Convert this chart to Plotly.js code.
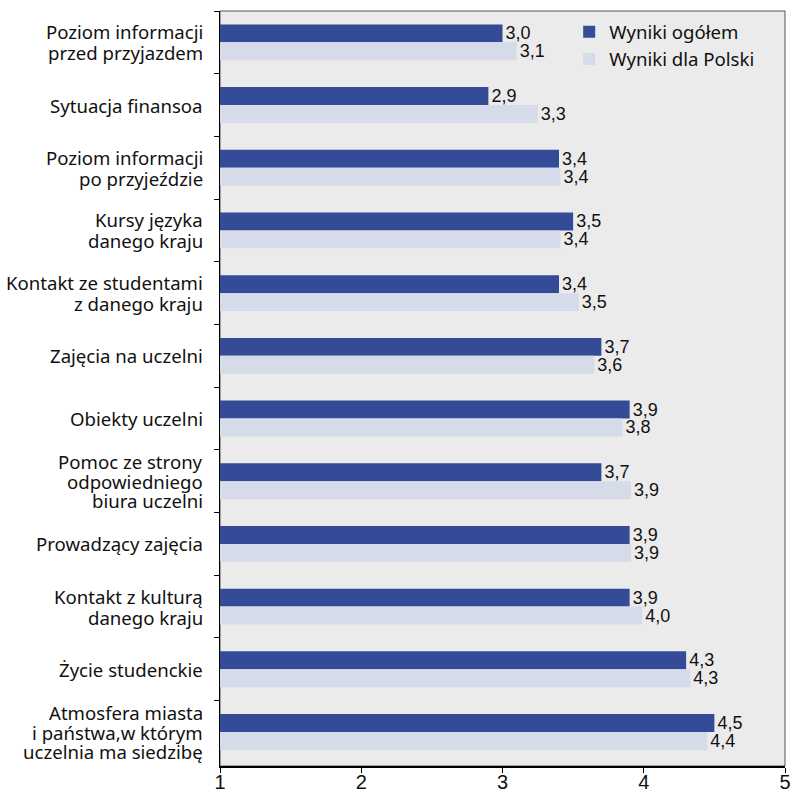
<!DOCTYPE html>
<html>
<head>
<meta charset="utf-8">
<script src="https://cdn.plot.ly/plotly-3.0.1.min.js"></script>
<style>html,body{margin:0;padding:0;background:#fff;}#chart{width:791px;height:789px;}</style>
</head>
<body>
<div id="chart"></div>
<script>
const categories = [
  "Poziom informacji<br>przed przyjazdem",
  "Sytuacja finansoa",
  "Poziom informacji<br>po przyjeździe",
  "Kursy języka<br>danego kraju",
  "Kontakt ze studentami<br>z danego kraju",
  "Zajęcia na uczelni",
  "Obiekty uczelni",
  "Pomoc ze strony<br>odpowiedniego<br>biura uczelni",
  "Prowadzący zajęcia",
  "Kontakt z kulturą<br>danego kraju",
  "Życie studenckie",
  "Atmosfera miasta<br>i państwa,w którym<br>uczelnia ma siedzibę"
];
const overall = [3.0, 2.9, 3.4, 3.5, 3.4, 3.7, 3.9, 3.7, 3.9, 3.9, 4.3, 4.5];
const poland  = [3.1, 3.25, 3.41, 3.41, 3.54, 3.65, 3.85, 3.91, 3.91, 3.99, 4.33, 4.45];
const overallLabels = ["3,0", "2,9", "3,4", "3,5", "3,4", "3,7", "3,9", "3,7", "3,9", "3,9", "4,3", "4,5"];
const polandLabels  = ["3,1", "3,3", "3,4", "3,4", "3,5", "3,6", "3,8", "3,9", "3,9", "4,0", "4,3", "4,4"];
const seriesNames = ["Wyniki ogółem", "Wyniki dla Polski"];
const xTicks = [1, 2, 3, 4, 5];

const labelFont = {family: "Noto Sans", size: 18.6, color: "#111"};
const numFont = {family: "Liberation Sans, Arial", size: 18, color: "#111"};

const traces = [
  {type: "bar", orientation: "h", name: seriesNames[0], y: categories, x: overall,
   marker: {color: "#344c98"}, text: overallLabels, textposition: "outside",
   textfont: numFont, constraintext: "none", cliponaxis: false, hoverinfo: "skip"},
  {type: "bar", orientation: "h", name: seriesNames[1], y: categories, x: poland,
   marker: {color: "#d5dbe8"}, text: polandLabels, textposition: "outside",
   textfont: numFont, constraintext: "none", cliponaxis: false, hoverinfo: "skip"}
];

// category labels: one annotation per line, tight line spacing as in the reference
const annotations = [];
categories.forEach(function (cat) {
  const lines = cat.split("<br>");
  const n = lines.length;
  const lineGap = n >= 3 ? 19.5 : 21;
  lines.forEach(function (ln, j) {
    annotations.push({
      xref: "paper", yref: "y", x: 0, y: cat, xanchor: "right", yanchor: "middle",
      xshift: -15, yshift: ((n - 1) / 2 - j) * lineGap,
      text: ln, showarrow: false, font: labelFont
    });
  });
});

const layout = {
  width: 791, height: 789,
  margin: {l: 220, r: 6, t: 10.5, b: 22.5},
  paper_bgcolor: "#ffffff",
  plot_bgcolor: "#ebebeb",
  barmode: "group",
  bargap: 0.428,
  bargroupgap: 0,
  showlegend: true,
  legend: {x: 0.618, y: 0.997, xanchor: "left", yanchor: "top", bgcolor: "rgba(0,0,0,0)",
           font: {family: "Noto Sans", size: 18.6, color: "#111"}, tracegroupgap: 0},
  xaxis: {range: [1, 5], tickvals: xTicks, ticktext: xTicks.map(String), showgrid: false, zeroline: false,
          showline: true, linecolor: "#000", linewidth: 1.5, ticks: "outside", ticklen: 5, tickcolor: "#000",
          ticklabelstandoff: -8,
          tickfont: {family: "Liberation Sans, Arial", size: 20, color: "#111"}, fixedrange: true},
  yaxis: {autorange: "reversed", showgrid: false, zeroline: false, showline: true, linecolor: "#000", linewidth: 1.5,
          ticks: "outside", ticklen: 5, tickcolor: "#000", tickson: "boundaries", showticklabels: false,
          fixedrange: true},
  annotations: annotations,
  shapes: [{type: "rect", xref: "paper", yref: "paper", x0: 0, x1: 1, y0: 0, y1: 1,
            line: {color: "#555", width: 1}, fillcolor: "rgba(0,0,0,0)", layer: "below"}]
};

Plotly.newPlot("chart", traces, layout, {displayModeBar: false, staticPlot: true});
</script>
</body>
</html>
